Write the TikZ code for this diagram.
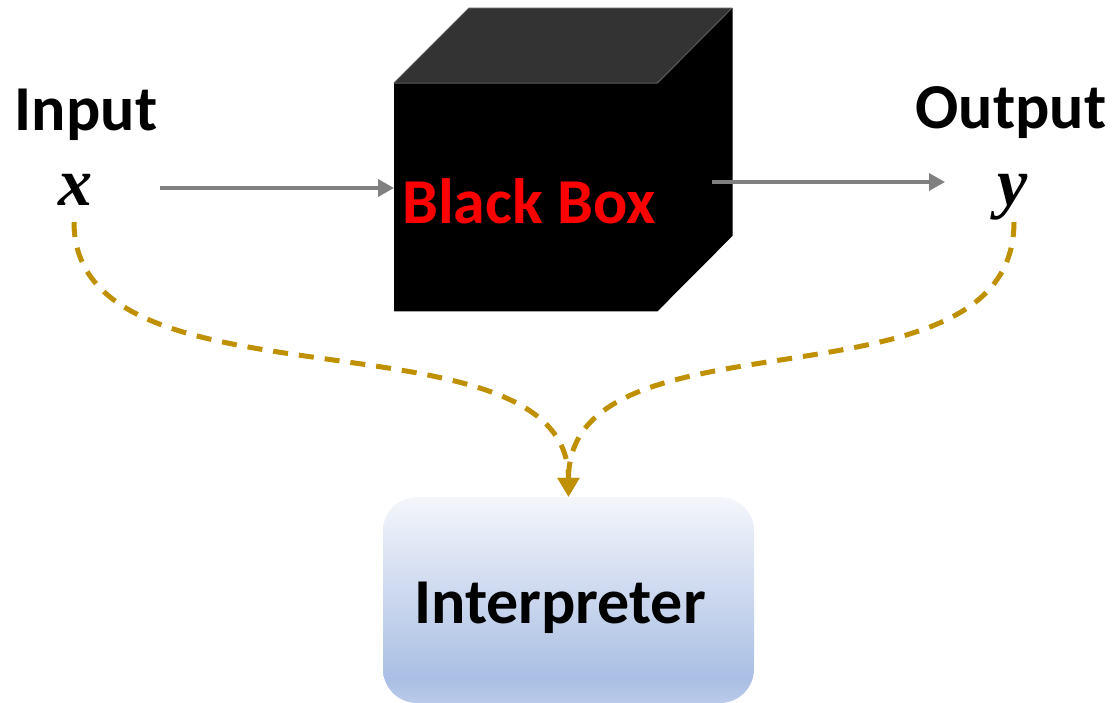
\documentclass[tikz,border=0pt]{standalone}
\usepackage{fontspec}
\setmainfont{Carlito}
\newfontfamily\varserif{Liberation Serif}
\usetikzlibrary{arrows.meta,calc}
\definecolor{goldline}{HTML}{BF9000}
\definecolor{arrowgray}{HTML}{808080}
\definecolor{topgray}{HTML}{333333}
\definecolor{edgegray}{HTML}{5A5A5A}
\definecolor{itop}{HTML}{F4F6FB}
\definecolor{imid}{HTML}{AABFE4}
\definecolor{ibot}{HTML}{BACAEA}
\pgfdeclareverticalshading{interpshade}{100bp}{color(0bp)=(ibot); color(25bp)=(ibot); color(31bp)=(imid); color(75bp)=(itop); color(100bp)=(itop)}
\begin{document}
\begin{tikzpicture}[x=1pt,y=-1pt,
  lbl/.style={font=\fontsize{64}{70}\selectfont\bfseries, inner sep=0pt, anchor=base},
  var/.style={font=\fontsize{68}{72}\selectfont\varserif\bfseries\itshape, inner sep=0pt, anchor=base},
  flow/.style={draw=arrowgray, line width=3.5pt, -{Triangle[length=16pt,width=17pt]}},
  explain/.style={draw=goldline, line width=5pt, dash pattern=on 15pt off 11pt, -{Triangle[length=19pt,width=21pt]}},
  interpbox/.style={shading=interpshade, rounded corners=34pt, minimum width=371pt, minimum height=206pt, inner sep=0pt}
]
\useasboundingbox (0,0) rectangle (1114,702);

% labels
\node[lbl] (inlbl) at (86,130) {Input};
\node[lbl] (outlbl) at (1011,128) {Output};
\node[var] (xv) at (75,205) {x};
\node[var] (yv) at (1013,205) {y};

% cube
\node[minimum width=263pt, minimum height=228pt, inner sep=0pt, anchor=north west] (front) at (394,83) {};
\fill[black] (front.north west) -- (front.north east) -- ++(75,-75) -- ++(0,228) -- (front.south east) -- (front.south west) -- cycle;
\fill[topgray, draw=edgegray, line width=1pt, line join=round] (front.north west) -- ++(75,-75) -- ++(263,0) -- (front.north east) -- cycle;
\draw[edgegray, line width=1pt] ($(front.north east)+(75,-75)$) -- ++(0,228);
\node[lbl, text=red] (bbtext) at (529,223) {Black Box};

% interpreter
\node[interpbox] (interp) at (568.5,600) {};
\node[lbl] (interptext) at (560,623) {Interpreter};

% flow arrows
\coordinate (a1s) at (160,188);
\coordinate (a2s) at (712,182);
\coordinate (a2e) at (945,182);
\draw[flow] (a1s) -- (a1s -| front.west);
\draw[flow] (a2s) -- (a2e);

% explanation arrows
\draw[explain] ($(xv.base)+(-1,17)$) .. controls +(0,198) and +(0,-195) .. (interp.north);
\draw[explain] ($(yv.base)+(1,17)$) .. controls +(0,198) and +(0,-195) .. (interp.north);
\end{tikzpicture}
\end{document}
